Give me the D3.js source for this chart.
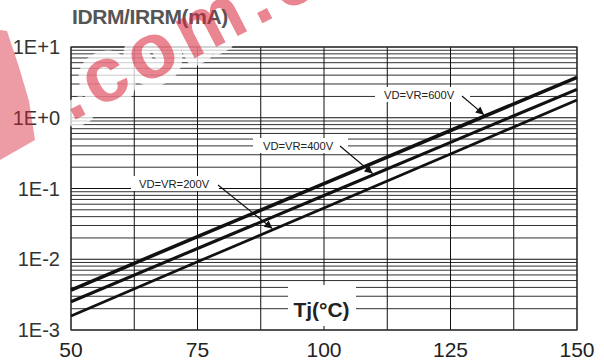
<!DOCTYPE html>
<html>
<head>
<meta charset="utf-8">
<script src="https://cdn.jsdelivr.net/npm/d3@7"></script>
<style>
  html, body { margin: 0; padding: 0; background: #fff; }
  svg { display: block; font-family: "Liberation Sans", Arial, Helvetica, sans-serif; }
</style>
</head>
<body>
<svg id="chart" width="604" height="361"></svg>
<script>
// Junction temperature (°C) sample points
const tempC = [50, 75, 100, 125, 150];
// Off-state / reverse leakage current (mA) per blocking voltage
const leak600 = [0.00367, 0.0209, 0.117, 0.66, 3.73];
const leak400 = [0.00251, 0.0142, 0.0796, 0.449, 2.52];
const leak200 = [0.00158, 0.0092, 0.053, 0.308, 1.78];
const seriesNames = ["VD=VR=600V", "VD=VR=400V", "VD=VR=200V"];

// Axis ticks
const xGridTicks = [50, 62.5, 75, 87.5, 100, 112.5, 125, 137.5, 150];
const xLabelTicks = [50, 75, 100, 125, 150];
const yDecades = [1e-3, 1e-2, 1e-1, 1e0, 1e1];
const yDecadeLabels = ["1E-3", "1E-2", "1E-1", "1E+0", "1E+1"];

const yTitle = "IDRM/IRRM(mA)";
const xTitle = "Tj(°C)";
const stampText = ".com.c";

const svg = d3.select("#chart");
const x = d3.scaleLinear().domain([50, 150]).range([71, 577]);
const y = d3.scaleLog().domain([1e-3, 1e1]).range([330, 47]);

// minor log grid (2..9 within each decade)
const yMinor = [];
for (let d = -3; d < 1; d++) {
  for (let m = 2; m <= 9; m++) yMinor.push(m * Math.pow(10, d));
}

const grid = svg.append("g");
grid.selectAll("line.hmin").data(yMinor).join("line")
  .attr("x1", x(50)).attr("x2", x(150))
  .attr("y1", d => y(d)).attr("y2", d => y(d))
  .attr("stroke", "#1a1a1a").attr("stroke-width", 0.9);
grid.selectAll("line.hdec").data(yDecades).join("line")
  .attr("x1", x(50)).attr("x2", x(150))
  .attr("y1", d => y(d)).attr("y2", d => y(d))
  .attr("stroke", "#111").attr("stroke-width", 1);
grid.selectAll("line.v").data(xGridTicks).join("line")
  .attr("x1", d => x(d)).attr("x2", d => x(d))
  .attr("y1", y(1e1)).attr("y2", y(1e-3))
  .attr("stroke", "#111").attr("stroke-width", 1);
// frame
grid.append("rect")
  .attr("x", x(50)).attr("y", y(1e1))
  .attr("width", x(150) - x(50)).attr("height", y(1e-3) - y(1e1))
  .attr("fill", "none").attr("stroke", "#333").attr("stroke-width", 1.2);

// white halo of the site stamp (sits under the texts)
const stampTransform = "translate(71,122) rotate(-27.3)";
const stampSize = 78, stampSpacing = 7;
svg.append("text")
  .attr("transform", stampTransform)
  .attr("font-size", stampSize).attr("font-weight", "bold")
  .attr("letter-spacing", stampSpacing)
  .attr("fill", "#fff").attr("stroke", "#fff").attr("stroke-width", 16)
  .attr("stroke-linejoin", "round").attr("opacity", 0.75)
  .text(stampText);

// y tick labels
svg.append("g").selectAll("text").data(yDecades).join("text")
  .attr("x", 60).attr("y", d => y(d))
  .attr("dy", "0.36em")
  .attr("text-anchor", "end")
  .attr("font-size", 20).attr("fill", "#333")
  .text((d, i) => yDecadeLabels[i]);

// x tick labels
svg.append("g").selectAll("text").data(xLabelTicks).join("text")
  .attr("x", d => x(d)).attr("y", 357)
  .attr("text-anchor", "middle")
  .attr("font-size", 21).attr("fill", "#222")
  .text(d => d);

// axis titles
svg.append("text").attr("x", 72).attr("y", 24)
  .attr("font-size", 21).attr("font-weight", "bold").attr("fill", "#555")
  .attr("letter-spacing", -0.4)
  .text(yTitle);

const xt = svg.append("g");
xt.append("rect").attr("x", 288).attr("y", 285).attr("width", 68).attr("height", 41).attr("fill", "#fff");
xt.append("text").attr("x", 321.5).attr("y", 317)
  .attr("text-anchor", "middle")
  .attr("font-size", 21).attr("font-weight", "bold").attr("fill", "#222")
  .text(xTitle);

// curve labels with white backing
const labelPos = [
  { tx: 384, ty: 99, bx: 375, bw: 95, arrowFrom: [462, 96], arrowT: 131.6 },
  { tx: 263, ty: 150, bx: 253, bw: 95, arrowFrom: [340, 146], arrowT: 109.6 },
  { tx: 139, ty: 188, bx: 131, bw: 88, arrowFrom: [218, 185], arrowT: 89.8 }
];
const labels = svg.append("g");
labelPos.forEach((p, i) => {
  labels.append("rect").attr("x", p.bx).attr("y", p.ty - 12).attr("width", p.bw).attr("height", 15).attr("fill", "#fff");
  labels.append("text").attr("x", p.tx).attr("y", p.ty)
    .attr("font-size", 11.2).attr("fill", "#222")
    .text(seriesNames[i]);
});

// leakage curves
const series = [leak600, leak400, leak200];
const widths = [3.6, 3.1, 2.7];
const line = d3.line().x(d => x(d[0])).y(d => y(d[1]));
svg.append("g").selectAll("path").data(series).join("path")
  .attr("d", s => line(tempC.map((t, i) => [t, s[i]])))
  .attr("fill", "none").attr("stroke", "#111")
  .attr("stroke-width", (d, i) => widths[i])
  .attr("stroke-linecap", "butt");

// arrows from each label to its curve
svg.append("defs").append("marker")
  .attr("id", "head").attr("viewBox", "0 0 10 10")
  .attr("refX", 10).attr("refY", 5)
  .attr("markerWidth", 11).attr("markerHeight", 8)
  .attr("markerUnits", "userSpaceOnUse")
  .attr("orient", "auto")
  .append("path").attr("d", "M0,0 L10,5 L0,10 Z").attr("fill", "#111");
function logInterp(s, t) {
  const lv = d3.scaleLinear().domain(tempC).range(s.map(v => Math.log10(v)));
  return Math.pow(10, lv(t));
}
labelPos.forEach((p, i) => {
  const tipX = x(p.arrowT);
  const tipY = y(logInterp(series[i], p.arrowT)) - widths[i] / 2;
  svg.append("line")
    .attr("x1", p.arrowFrom[0]).attr("y1", p.arrowFrom[1])
    .attr("x2", tipX).attr("y2", tipY)
    .attr("stroke", "#111").attr("stroke-width", 1.2)
    .attr("marker-end", "url(#head)");
});

// red site stamp in the upper-left corner
const stamp = svg.append("g").attr("pointer-events", "none");
stamp.append("path")
  .attr("d", "M0,30 L7,31 L19,67 L29,101 L35,140 L0,160 Z")
  .attr("fill", "#d8243a").attr("opacity", 0.45);
stamp.append("text")
  .attr("transform", stampTransform)
  .attr("font-size", stampSize).attr("font-weight", "bold")
  .attr("letter-spacing", stampSpacing)
  .attr("fill", "#d8243a").attr("opacity", 0.55)
  .text(stampText);
</script>
</body>
</html>
